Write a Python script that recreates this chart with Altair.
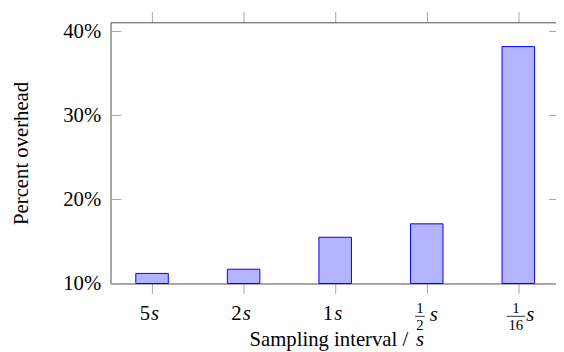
import altair as alt
import pandas as pd

# ---- data ----
categories = ["5s", "2s", "1s", "1/2 s", "1/16 s"]
overhead = [11.2, 11.7, 15.5, 17.1, 38.2]          # percent
yticks = [10, 20, 30, 40]
whole_nums = ["5", "2", "1"]
frac_num = ["1", "1"]
frac_den = ["2", "16"]

pos = list(range(len(categories)))
df = pd.DataFrame({"pos": pos, "cat": categories, "v": overhead})
whole_df = pd.DataFrame({"pos": pos[:3], "num": whole_nums})
frac_df = pd.DataFrame({"pos": pos[3:], "num": frac_num, "den": frac_den})
ytick_df = pd.DataFrame({"t": yticks})

W, H = 452, 265
STEP = 95.0
xs = alt.Scale(domain=[-0.4, -0.4 + W / STEP], nice=False, zero=False)
ys = alt.Scale(domain=[10, 41.09], nice=False, zero=False)
FONT = "Liberation Serif"
FRAME = "#4d4d4d"
TICK = "#a6a6a6"
FS = 21

X = lambda axis=None: alt.X("pos:Q", scale=xs, axis=axis)

bars = alt.Chart(df).mark_bar(size=33, fill="#b3b3ff", stroke="#0000ff",
                              strokeWidth=1).encode(
    x=X(),
    y=alt.Y("v:Q", scale=ys, axis=alt.Axis(
        orient="left", values=yticks, ticks=False, grid=False,
        domainColor=FRAME, domainWidth=1,
        labelExpr="datum.value + '%'", labelFont=FONT, labelFontSize=FS,
        labelColor="black", labelPadding=10,
        title="Percent overhead", titleFont=FONT, titleFontSize=FS,
        titleFontWeight="normal", titleColor="black", titleAngle=270,
        titleBaseline="alphabetic", titleAlign="center",
        titleX=-84, titleY=H / 2)),
    y2=alt.datum(10),
)

bottom_axis = alt.Chart(df).mark_point(opacity=0).encode(
    x=X(alt.Axis(orient="bottom", values=pos, labels=False, title=None,
                 grid=False, domainColor=FRAME, domainWidth=1,
                 tickColor=TICK, tickSize=10, tickWidth=1)),
)
top_axis = alt.Chart(df).mark_point(opacity=0).encode(
    x=X(alt.Axis(orient="top", values=pos, labels=False, title=None,
                 grid=False, domainColor=FRAME, domainWidth=1,
                 tickColor=TICK, tickSize=11, tickWidth=1)),
)

left_ticks = alt.Chart(ytick_df).mark_rule(color=TICK, strokeWidth=1).encode(
    y=alt.Y("t:Q", scale=ys, axis=None), x=alt.value(0), x2=alt.value(11))
right_ticks = alt.Chart(ytick_df).mark_rule(color=TICK, strokeWidth=1).encode(
    y=alt.Y("t:Q", scale=ys, axis=None), x=alt.value(W - 7), x2=alt.value(W))

txt = dict(font=FONT, baseline="alphabetic", color="black")

whole_n = alt.Chart(whole_df).mark_text(align="right", dx=-2, fontSize=FS, **txt).encode(
    x=X(), y=alt.value(301.7), text="num:N")
whole_s = alt.Chart(whole_df).mark_text(align="left", dx=-1, fontSize=FS,
                                        fontStyle="italic", **txt).encode(
    x=X(), y=alt.value(301.7), text=alt.value("s"))

frac_layers = []
for p, cdx, l, r, sdx in [(3, -7, -12, -2, 3), (4, -2.5, -12, 7, 8)]:
    fb = alt.Chart(frac_df).transform_filter(alt.datum.pos == p)
    frac_layers += [
        fb.mark_text(align="center", dx=cdx, fontSize=15, **txt).encode(
            x=X(), y=alt.value(295), text="num:N"),
        fb.mark_text(align="center", dx=cdx, fontSize=15, **txt).encode(
            x=X(), y=alt.value(311.7), text="den:N"),
        fb.mark_rule(color="black", strokeWidth=0.8, xOffset=l, x2Offset=r).encode(
            x=X(), x2="pos:Q", y=alt.value(298.3)),
        fb.mark_text(align="left", dx=sdx, fontSize=FS, fontStyle="italic", **txt).encode(
            x=X(), y=alt.value(303.3), text=alt.value("s")),
    ]

title_a = alt.Chart(df.head(1)).mark_text(align="right", fontSize=FS, **txt).encode(
    x=alt.value(302), y=alt.value(328), text=alt.value("Sampling interval /"))
title_b = alt.Chart(df.head(1)).mark_text(align="left", fontSize=FS,
                                          fontStyle="italic", **txt).encode(
    x=alt.value(310), y=alt.value(328), text=alt.value("s"))

chart = alt.layer(
    bars, bottom_axis, top_axis, left_ticks, right_ticks,
    whole_n, whole_s, *frac_layers, title_a, title_b,
).resolve_axis(x="independent", y="independent").properties(
    width=W, height=H,
    autosize=alt.AutoSizeParams(type="none"),
    padding={"left": 104, "top": 12, "right": 0, "bottom": 67},
    background="white",
).configure(font=FONT).configure_view(stroke=None)

chart.save("out.html", embed_options={"renderer": "svg", "actions": False})
